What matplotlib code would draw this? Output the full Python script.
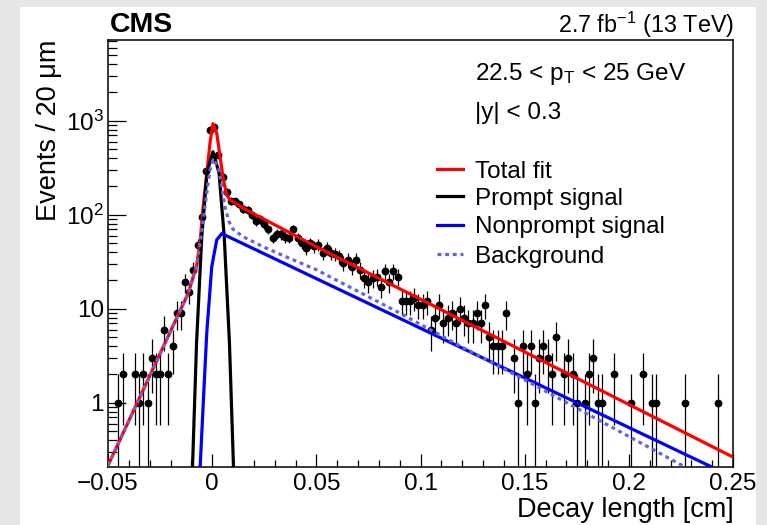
import numpy as np
import matplotlib
matplotlib.use("Agg")
import matplotlib.pyplot as plt
from matplotlib.lines import Line2D
from matplotlib.patches import Rectangle
from matplotlib.ticker import FixedLocator, FixedFormatter, NullFormatter

plt.rcParams.update({
    "font.family": ["Liberation Sans", "DejaVu Sans"],
    "mathtext.fontset": "custom",
    "mathtext.rm": "Liberation Sans",
    "mathtext.it": "Liberation Sans:italic",
    "mathtext.bf": "Liberation Sans:bold",
})

# ---- measured decay-length distribution (20 um bins, empty bins omitted) ----
decay_length = [
    -0.045, -0.043, -0.037, -0.035, -0.033, -0.031, -0.029, -0.027, -0.025, -0.023,
    -0.021, -0.019, -0.017, -0.015, -0.013, -0.011, -0.009, -0.007, -0.005, -0.003,
    -0.001, 0.001, 0.003, 0.005, 0.007, 0.009, 0.011, 0.013, 0.015, 0.017,
    0.019, 0.021, 0.023, 0.025, 0.027, 0.029, 0.031, 0.033, 0.035, 0.037,
    0.039, 0.041, 0.043, 0.045, 0.047, 0.049, 0.051, 0.053, 0.055, 0.057,
    0.059, 0.061, 0.063, 0.065, 0.067, 0.069, 0.071, 0.073, 0.075, 0.077,
    0.079, 0.081, 0.083, 0.085, 0.087, 0.089, 0.091, 0.093, 0.095, 0.097,
    0.099, 0.101, 0.103, 0.105, 0.107, 0.109, 0.111, 0.113, 0.115, 0.117,
    0.119, 0.121, 0.123, 0.125, 0.127, 0.129, 0.131, 0.133, 0.135, 0.137,
    0.139, 0.141, 0.145, 0.147, 0.149, 0.151, 0.153, 0.155, 0.157, 0.159,
    0.161, 0.163, 0.165, 0.169, 0.171, 0.173, 0.175, 0.179, 0.181, 0.183,
    0.185, 0.187, 0.193, 0.201, 0.207, 0.211, 0.213, 0.227, 0.243,
]
events = [
    1, 2, 2, 1, 2, 1, 3, 2, 2, 6,
    2, 4, 9, 9, 19, 15, 26, 48, 94, 294,
    795, 863, 430, 250, 176, 140, 140, 130, 115, 112,
    100, 85, 90, 80, 70, 57, 63, 62, 58, 57,
    70, 56, 50, 44, 50, 46, 48, 39, 44, 39,
    38, 36, 31, 33, 28, 33, 26, 21, 19, 21,
    22, 17, 25, 19, 25, 22, 12, 12, 12, 13,
    11, 11, 12, 6, 8, 11, 7, 8, 9, 7,
    10, 8, 7, 7, 9, 7, 11, 5, 4, 4,
    4, 9, 3, 1, 4, 2, 4, 1, 3, 4,
    3, 2, 5, 2, 3, 2, 1, 1, 2, 3,
    1, 1, 2, 1, 2, 1, 1, 1, 1,
]

# ---- fit components, given as curve nodes (decay length, events) ----
total_x = [-0.05, -0.0115, -0.0074, -0.0058, -0.0042, -0.0026, -0.001, 0.0004,
           0.0022, 0.0038, 0.0054, 0.007, 0.0086, 0.0166, 0.05, 0.25]
total_y = [0.215, 14.6, 29, 52, 130, 270, 590, 930,
           735, 414, 234, 162, 143, 112, 45.7, 0.264]

prompt_x = [-0.0096, -0.0075, -0.005, -0.0025, 0.0004, 0.0033, 0.0058, 0.0083, 0.0104]
prompt_y = [0.16, 4.3, 58, 278, 468, 278, 58, 4.3, 0.16]

nonprompt_x = [-0.0058, -0.0042, -0.0026, -0.0002, 0.0022, 0.0046, 0.2398]
nonprompt_y = [0.2, 1.07, 5.5, 28, 54, 63, 0.207]

background_x = [-0.05, -0.0115, -0.0074, -0.0058, -0.0042, -0.0026, -0.001, 0.0004,
                0.003, 0.0046, 0.0062, 0.008, 0.010, 0.015, 0.025, 0.035, 0.05,
                0.066, 0.09, 0.12, 0.15, 0.227]
background_y = [0.215, 14.6, 29, 50, 90, 170, 300, 390,
                320, 199, 120, 85, 70, 58, 45, 36, 26,
                17, 9.0, 3.9, 1.75, 0.207]

x_ticks = [-0.05, 0.0, 0.05, 0.1, 0.15, 0.2, 0.25]
x_tick_labels = ["\u22120.05", "0", "0.05", "0.1", "0.15", "0.2", "0.25"]
y_ticks = [1, 10, 100, 1000]
y_tick_labels = ["1", "10", "$10^{2}$", "$10^{3}$"]

legend_labels = ["Total fit", "Prompt signal", "Nonprompt signal", "Background"]

RED, BLACK, BLUE, BKG = "#ff0000", "#000000", "#0000ff", "#6464e0"

W, H = 767, 525


def fx(px):
    return px / W


def fy(py):
    return 1 - py / H


fig = plt.figure(figsize=(W / 100, H / 100), dpi=100, facecolor="#e6e6e6")
fig.patches.append(Rectangle((fx(19.5), 0), fx(756) - fx(19.5), fy(6.5),
                             transform=fig.transFigure, facecolor="white",
                             edgecolor="none", zorder=-5))

ax = fig.add_axes([fx(108), fy(467), fx(733) - fx(108), fy(40) - fy(467)])
ax.set_yscale("log")
ax.set_xlim(-0.05, 0.25)
ax.set_ylim(0.207, 7220)

counts = np.array(events, dtype=float)
err = np.sqrt(counts)
err_lo = np.minimum(err, counts - 1e-3)
ax.errorbar(decay_length, counts, yerr=[err_lo, err], fmt="o", color="black",
            ms=4.6, elinewidth=0.9, capsize=0, zorder=3)

lw = 2.3
ax.plot(total_x, total_y, color=RED, lw=lw, zorder=4, solid_joinstyle="round")
ax.plot(prompt_x, prompt_y, color=BLACK, lw=lw, zorder=5, solid_joinstyle="round")
ax.plot(nonprompt_x, nonprompt_y, color=BLUE, lw=lw, zorder=6, solid_joinstyle="round")
ax.plot(background_x, background_y, color=BKG, lw=lw, ls=(0, (1.2, 1.2)),
        dash_capstyle="butt", zorder=7)

ax.xaxis.set_major_locator(FixedLocator(x_ticks))
ax.xaxis.set_major_formatter(FixedFormatter(x_tick_labels))
ax.xaxis.set_minor_locator(FixedLocator(np.linspace(-0.05, 0.25, 31)))
ax.yaxis.set_major_locator(FixedLocator(y_ticks))
ax.yaxis.set_major_formatter(FixedFormatter(y_tick_labels))
ax.yaxis.set_minor_locator(FixedLocator([m * 10.0 ** e for e in range(-1, 4)
                                         for m in range(2, 10)]))
ax.yaxis.set_minor_formatter(NullFormatter())

ax.tick_params(axis="both", which="both", direction="in", top=False, right=False,
               width=0.9, labelsize=17.5, colors="black")
ax.tick_params(axis="x", which="major", length=9.5, pad=4)
ax.tick_params(axis="x", which="minor", length=5)
ax.tick_params(axis="y", which="major", length=13, pad=3)
ax.tick_params(axis="y", which="minor", length=6.5)
for s in ax.spines.values():
    s.set_linewidth(1.1)

# axis titles
fig.text(fx(734), fy(517), "Decay length [cm]", ha="right", va="baseline", fontsize=19.5)
fig.text(fx(49), fy(40), "Events / 20 \u03bcm", ha="center", va="top",
         rotation=90, fontsize=19.5)

# header
fig.text(fx(110), fy(32), "CMS", ha="left", va="baseline", fontsize=20.5,
         fontweight="bold")
fig.text(fx(734), fy(33), "2.7 fb$^{-1}$ (13 TeV)", ha="right", va="baseline",
         fontsize=16.8)

# kinematic selection
fig.text(fx(475), fy(80), "22.5 < p$_{\\mathrm{T}}$ < 25 GeV", ha="left",
         va="baseline", fontsize=17.5)
fig.text(fx(475), fy(119), "|y| < 0.3", ha="left", va="baseline", fontsize=17.5)

# legend
leg_rows = [169, 196, 225, 254]
leg_styles = [dict(color=RED), dict(color=BLACK), dict(color=BLUE),
              dict(color=BKG, ls=(0, (1.2, 1.2)), dash_capstyle="butt")]
for row, label, style in zip(leg_rows, legend_labels, leg_styles):
    fig.add_artist(Line2D([fx(437), fx(463)], [fy(row), fy(row)], lw=lw,
                          transform=fig.transFigure, **style))
    fig.text(fx(475), fy(row + 8.5), label, ha="left", va="baseline", fontsize=17.5)

fig.savefig("out.png", dpi=100, facecolor=fig.get_facecolor())
